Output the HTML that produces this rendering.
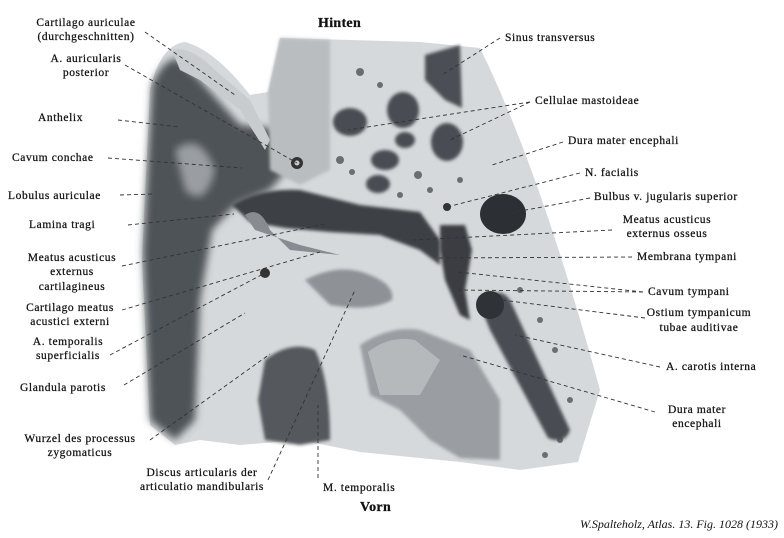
<!DOCTYPE html>
<html><head><meta charset="utf-8"><style>
html,body{margin:0;padding:0;background:#fff;}
#c{position:relative;width:784px;height:538px;overflow:hidden;}
svg{position:absolute;left:0;top:0;}
text{font-family:"Liberation Serif",serif;font-size:11.5px;fill:#111;stroke:#111;stroke-width:0.25;letter-spacing:0.6px;}
.b{font-weight:bold;font-size:14px;letter-spacing:0.3px;}
.i{font-style:italic;font-size:12px;letter-spacing:0;stroke-width:0;}
</style></head><body><div id="c">
<svg width="784" height="538" viewBox="0 0 784 538">
<defs>
<filter id="bl"><feGaussianBlur stdDeviation="4"/></filter>
<filter id="bl2"><feGaussianBlur stdDeviation="1.5"/></filter>
</defs>
<path d="M150,90 Q160,45 185,42 Q215,50 250,95 L268,92 L280,38 L420,42 L480,48 Q540,170 600,390 L578,462 L520,470 L460,462 L420,458 L360,452 L300,440 L240,445 L200,440 L175,445 L150,425 L142,260 Z" fill="#d6d9db"/>
<path d="M152,85 Q165,55 180,60 L200,80 L240,125 L285,130 L295,160 L270,190 L235,205 L212,230 L200,300 L195,420 L175,440 L150,420 L143,250 Z" fill="#4e5256" filter="url(#bl)"/>
<path d="M175,150 Q200,130 215,170 Q205,210 185,190 Z" fill="#9a9ea2" filter="url(#bl)"/>
<path d="M172,50 Q190,45 215,70 L250,100 L270,140 L265,150 L240,110 L200,80 L180,70 Z" fill="#c9ccce"/>
<path d="M268,92 L280,38 L330,40 L330,170 L300,185 L270,170 Z" fill="#b9bdc0" filter="url(#bl2)"/>
<circle cx="297" cy="163" r="6" fill="#333"/><circle cx="297" cy="163" r="2.5" fill="#ccc"/>
<path d="M232,205 Q260,188 300,190 L360,205 L420,212 L440,240 L440,265 L420,250 L380,235 L330,232 L285,228 L250,222 Z" fill="#3c4044" filter="url(#bl2)"/>
<path d="M245,215 Q260,205 270,230 L290,250 L340,255 L300,245 L255,230 Z" fill="#888c90"/>
<g fill="#4a4e52" filter="url(#bl2)">
<ellipse cx="350" cy="122" rx="17" ry="14"/>
<ellipse cx="403" cy="110" rx="16" ry="18"/>
<ellipse cx="447" cy="142" rx="16" ry="19"/>
<ellipse cx="385" cy="160" rx="14" ry="10"/>
<ellipse cx="378" cy="184" rx="12" ry="9"/>
<ellipse cx="405" cy="140" rx="10" ry="8"/>
</g>
<g fill="#6a6e72">
<circle cx="340" cy="160" r="4"/><circle cx="352" cy="172" r="3"/><circle cx="418" cy="175" r="4"/><circle cx="430" cy="190" r="3"/><circle cx="400" cy="195" r="3"/><circle cx="360" cy="72" r="4"/><circle cx="380" cy="85" r="3"/><circle cx="460" cy="180" r="3"/>
<circle cx="520" cy="290" r="3"/><circle cx="540" cy="320" r="3"/><circle cx="555" cy="350" r="3"/><circle cx="530" cy="370" r="3"/><circle cx="570" cy="400" r="3"/><circle cx="545" cy="455" r="3"/><circle cx="560" cy="440" r="3"/>
</g>
<path d="M425,55 L460,45 L462,108 L445,100 L425,80 Z" fill="#4c5054" filter="url(#bl2)"/>
<ellipse cx="503" cy="214" rx="23" ry="20" fill="#2c3034"/>
<circle cx="447" cy="207" r="4" fill="#333"/>
<path d="M440,225 L465,225 L472,250 L465,290 L470,320 L460,315 L445,280 L440,250 Z" fill="#3a3e42" filter="url(#bl2)"/>
<path d="M478,300 Q500,285 510,300 L570,430 Q565,445 548,438 L490,330 Z" fill="#4a4e52" filter="url(#bl2)"/>
<ellipse cx="490" cy="305" rx="14" ry="14" fill="#2f3337"/>
<path d="M360,345 Q390,325 420,330 L470,350 L500,400 L500,460 L460,458 L430,440 L400,410 L370,395 Z" fill="#9a9ea2" filter="url(#bl2)"/>
<path d="M368,352 Q390,335 415,340 L440,360 L420,395 L380,395 Z" fill="#b5b9bc"/>
<path d="M305,280 Q340,262 370,275 Q395,285 392,300 Q370,312 330,305 Z" fill="#8e9296" filter="url(#bl2)"/>
<path d="M265,360 Q290,340 315,350 Q330,380 330,440 L300,445 L265,440 L258,400 Z" fill="#55595d" filter="url(#bl2)"/>
<circle cx="265" cy="273" r="5" fill="#333"/>
<g stroke="#333" stroke-width="0.9" stroke-dasharray="4,3" fill="none">
<path d="M145,32 L235,95"/>
<path d="M125,65 L297,163"/>
<path d="M118,120 L180,127"/>
<path d="M108,158 L242,168"/>
<path d="M120,195 L155,194"/>
<path d="M128,225 L234,214"/>
<path d="M122,266 L325,224"/>
<path d="M122,310 L320,252"/>
<path d="M110,355 L265,273"/>
<path d="M124,385 L245,313"/>
<path d="M150,440 L270,354"/>
<path d="M268,480 L355,290"/>
<path d="M318,478 L318,405"/>
<path d="M500,38 L442,75"/>
<path d="M530,102 L348,130"/>
<path d="M530,102 L450,140"/>
<path d="M563,142 L492,165"/>
<path d="M580,173 L447,207"/>
<path d="M590,198 L510,213"/>
<path d="M612,230 L413,240"/>
<path d="M632,257 L437,258"/>
<path d="M643,292 L458,272"/>
<path d="M643,292 L458,290"/>
<path d="M645,318 L478,297"/>
<path d="M660,367 L515,335"/>
<path d="M655,412 L460,355"/>
</g>
<text class="b" x="318" y="27">Hinten</text>
<text class="b" x="360" y="511">Vorn</text>
<g text-anchor="middle">
<text x="86" y="26">Cartilago  auriculae</text>
<text x="86" y="40">(durchgeschnitten)</text>
<text x="86" y="62">A.  auricularis</text>
<text x="86" y="76">posterior</text>
<text x="72" y="261">Meatus  acusticus</text>
<text x="72" y="275">externus</text>
<text x="72" y="290">cartilagineus</text>
<text x="70" y="311">Cartilago  meatus</text>
<text x="70" y="325">acustici  externi</text>
<text x="68" y="345">A.  temporalis</text>
<text x="68" y="359">superficialis</text>
<text x="80" y="442">Wurzel  des  processus</text>
<text x="80" y="456">zygomaticus</text>
<text x="202" y="476">Discus  articularis  der</text>
<text x="202" y="490">articulatio  mandibularis</text>
<text x="667" y="223">Meatus  acusticus</text>
<text x="667" y="237">externus  osseus</text>
<text x="699" y="316">Ostium  tympanicum</text>
<text x="699" y="331">tubae  auditivae</text>
<text x="697" y="413">Dura  mater</text>
<text x="697" y="427">encephali</text>
</g>
<text x="38" y="121">Anthelix</text>
<text x="12" y="161">Cavum  conchae</text>
<text x="8" y="199">Lobulus  auriculae</text>
<text x="29" y="228">Lamina  tragi</text>
<text x="20" y="391">Glandula  parotis</text>
<text x="323" y="491">M.  temporalis</text>
<text x="505" y="41">Sinus  transversus</text>
<text x="535" y="104">Cellulae  mastoideae</text>
<text x="568" y="144">Dura  mater  encephali</text>
<text x="585" y="176">N.  facialis</text>
<text x="594" y="200">Bulbus  v.  jugularis  superior</text>
<text x="637" y="260">Membrana  tympani</text>
<text x="648" y="295">Cavum  tympani</text>
<text x="666" y="370">A.  carotis  interna</text>
<text class="i" x="778" y="528" text-anchor="end">W.Spalteholz, Atlas. 13. Fig. 1028 (1933)</text>
</svg>
</div></body></html>
